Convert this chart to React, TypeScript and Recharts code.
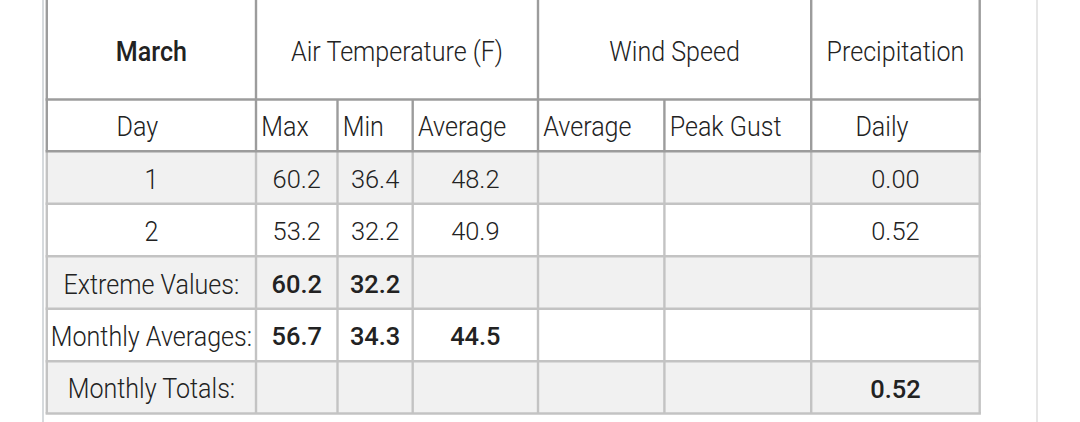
import React from "react";
import { ComposedChart, XAxis, YAxis, Scatter, ReferenceArea, ReferenceLine } from "recharts";

// ---- data ----
const headerGroups = ["March", "Air Temperature (F)", "Wind Speed", "Precipitation"];
const headerGroupSpans = [1, 3, 2, 1];
const subHeaders = ["Day", "Max", "Min", "Average", "Average", "Peak Gust", "Daily"];
const days = ["1", "2"];
const airMax = [60.2, 53.2];
const airMin = [36.4, 32.2];
const airAvg = [48.2, 40.9];
const windAvg: (number | null)[] = [null, null];
const peakGust: (number | null)[] = [null, null];
const precipDaily = [0.0, 0.52];
const summaryLabels = ["Extreme Values:", "Monthly Averages:", "Monthly Totals:"];
const summaryMax: (number | null)[] = [60.2, 56.7, null];
const summaryMin: (number | null)[] = [32.2, 34.3, null];
const summaryAvg: (number | null)[] = [null, 44.5, null];
const summaryPrecip: (number | null)[] = [null, null, 0.52];

// ---- layout (table geometry) ----
const colWidths = [209.2, 81.5, 75.2, 125.3, 126.4, 146.8, 168.5];
const rowHeights = [99.5, 51.7, 52.6, 52.4, 52.6, 52.4, 52.3];
const subAlign = ["center", "left", "left", "left", "left", "left", "center"];
const subShift = [-14, 0, 0, 0, 0, 0, -13.5];
const bodyFills = ["#f1f1f1", "#ffffff", "#f1f1f1", "#ffffff", "#f1f1f1"];

const W = 1080;
const H = 422;
const LEFT = 46.8;
const TOTAL_W = colWidths.reduce((a, b) => a + b, 0);
const TOTAL_H = rowHeights.reduce((a, b) => a + b, 0);
const colEdges = colWidths.reduce<number[]>((acc, w) => [...acc, acc[acc.length - 1] + w], [0]);
const rowEdges = rowHeights.reduce<number[]>((acc, h) => [...acc, acc[acc.length - 1] + h], [0]);

const HEAD_LINE = "#9c9c9c";
const BODY_LINE = "#c3c3c3";
const LW = 2.4;
const PAD = 5.3;
const FONT = 'Roboto, "Noto Sans", sans-serif';

type Cell = { x: number; y: number; text: string; anchor: string; bold: boolean; kind: "label" | "num" };

const cells: Cell[] = [];
const rowMid = (r: number) => (rowEdges[r] + rowEdges[r + 1]) / 2;
const colMid = (c: number, span = 1) => (colEdges[c] + colEdges[c + span]) / 2;
const addCell = (r: number, c: number, text: string, opts: Partial<Cell> = {}) =>
  cells.push({ x: colMid(c), y: rowMid(r), text, anchor: "middle", bold: false, kind: "label", ...opts });

// header group row
let gc = 0;
headerGroups.forEach((t, i) => {
  cells.push({ x: colMid(gc, headerGroupSpans[i]), y: rowMid(0), text: t, anchor: "middle", bold: i === 0, kind: "label" });
  gc += headerGroupSpans[i];
});
// sub header row
subHeaders.forEach((t, c) => {
  const left = subAlign[c] === "left";
  cells.push({
    x: left ? colEdges[c] + PAD : colMid(c) + subShift[c],
    y: rowMid(1),
    text: t,
    anchor: left ? "start" : "middle",
    bold: false,
    kind: "label",
  });
});
// day rows
days.forEach((d, i) => {
  const r = 2 + i;
  addCell(r, 0, d);
  addCell(r, 1, airMax[i].toFixed(1), { kind: "num" });
  addCell(r, 2, airMin[i].toFixed(1), { kind: "num" });
  addCell(r, 3, airAvg[i].toFixed(1), { kind: "num" });
  if (windAvg[i] != null) addCell(r, 4, (windAvg[i] as number).toFixed(1), { kind: "num" });
  if (peakGust[i] != null) addCell(r, 5, (peakGust[i] as number).toFixed(1), { kind: "num" });
  addCell(r, 6, precipDaily[i].toFixed(2), { kind: "num" });
});
// summary rows
summaryLabels.forEach((l, i) => {
  const r = 2 + days.length + i;
  addCell(r, 0, l);
  if (summaryMax[i] != null) addCell(r, 1, (summaryMax[i] as number).toFixed(1), { kind: "num", bold: true });
  if (summaryMin[i] != null) addCell(r, 2, (summaryMin[i] as number).toFixed(1), { kind: "num", bold: true });
  if (summaryAvg[i] != null) addCell(r, 3, (summaryAvg[i] as number).toFixed(1), { kind: "num", bold: true });
  if (summaryPrecip[i] != null) addCell(r, 6, (summaryPrecip[i] as number).toFixed(2), { kind: "num", bold: true });
});

const CellText = (props: any) => {
  const { cx, cy, payload } = props;
  if (cx == null || cy == null) return null;
  const num = payload.kind === "num";
  const size = num ? 26.5 : 28.5;
  const sx = num ? 0.96 : 0.88;
  const base = cy + 1 + (0.711 * size) / 2;
  return (
    <text
      transform={`translate(${cx},${base}) scale(${sx},1)`}
      textAnchor={payload.anchor}
      fontFamily={FONT}
      fontSize={size}
      fontWeight={payload.bold ? 500 : 300}
      fill="#222222"
    >
      {payload.text}
    </text>
  );
};

// grid line segments
type Seg = { x1: number; y1: number; x2: number; y2: number; color: string };
const segs: Seg[] = [];
const headerFullCols = [0, 1, 4, 6, 7];
const headerSubCols = [2, 3, 5];
const bodyTop = rowEdges[2];
// body verticals
colEdges.forEach((x) => segs.push({ x1: x, y1: bodyTop, x2: x, y2: TOTAL_H, color: BODY_LINE }));
// body horizontals
for (let r = 3; r < rowEdges.length; r++)
  segs.push({ x1: -LW / 2, y1: rowEdges[r], x2: TOTAL_W + LW / 2, y2: rowEdges[r], color: BODY_LINE });
// header verticals
headerFullCols.forEach((c) => segs.push({ x1: colEdges[c], y1: 0, x2: colEdges[c], y2: bodyTop, color: HEAD_LINE }));
headerSubCols.forEach((c) => segs.push({ x1: colEdges[c], y1: rowEdges[1], x2: colEdges[c], y2: bodyTop, color: HEAD_LINE }));
// header horizontals
[1, 2].forEach((r) =>
  segs.push({ x1: -LW / 2, y1: rowEdges[r], x2: TOTAL_W + LW / 2, y2: rowEdges[r], color: HEAD_LINE })
);

export default function App() {
  return (
    <div style={{ position: "absolute", left: 0, top: 0, width: W, height: H, background: "#fff" }}>
      <div style={{ position: "absolute", left: 42.3, top: 0, width: 2, height: H, background: "#d6dadd" }} />
      <div style={{ position: "absolute", left: 1036, top: 0, width: 2, height: H, background: "#e6e6e6" }} />
      <ComposedChart
        width={W}
        height={H}
        margin={{ top: 0, right: W - LEFT - TOTAL_W, bottom: H - TOTAL_H, left: LEFT }}
        style={{ position: "absolute", left: 0, top: 0 }}
      >
        <XAxis type="number" dataKey="x" domain={[0, TOTAL_W]} hide allowDataOverflow />
        <YAxis type="number" dataKey="y" domain={[0, TOTAL_H]} reversed hide allowDataOverflow />
        {bodyFills.map((f, i) => (
          <ReferenceArea
            key={`f${i}`}
            x1={0}
            x2={TOTAL_W}
            y1={rowEdges[2 + i]}
            y2={rowEdges[3 + i]}
            fill={f}
            fillOpacity={1}
            stroke="none"
            ifOverflow="visible"
          />
        ))}
        {segs.map((s, i) => (
          <ReferenceLine
            key={`s${i}`}
            segment={[
              { x: s.x1, y: s.y1 },
              { x: s.x2, y: s.y2 },
            ]}
            stroke={s.color}
            strokeWidth={LW}
            ifOverflow="visible"
          />
        ))}
        <Scatter data={cells} dataKey="y" shape={<CellText />} isAnimationActive={false} />
      </ComposedChart>
    </div>
  );
}
